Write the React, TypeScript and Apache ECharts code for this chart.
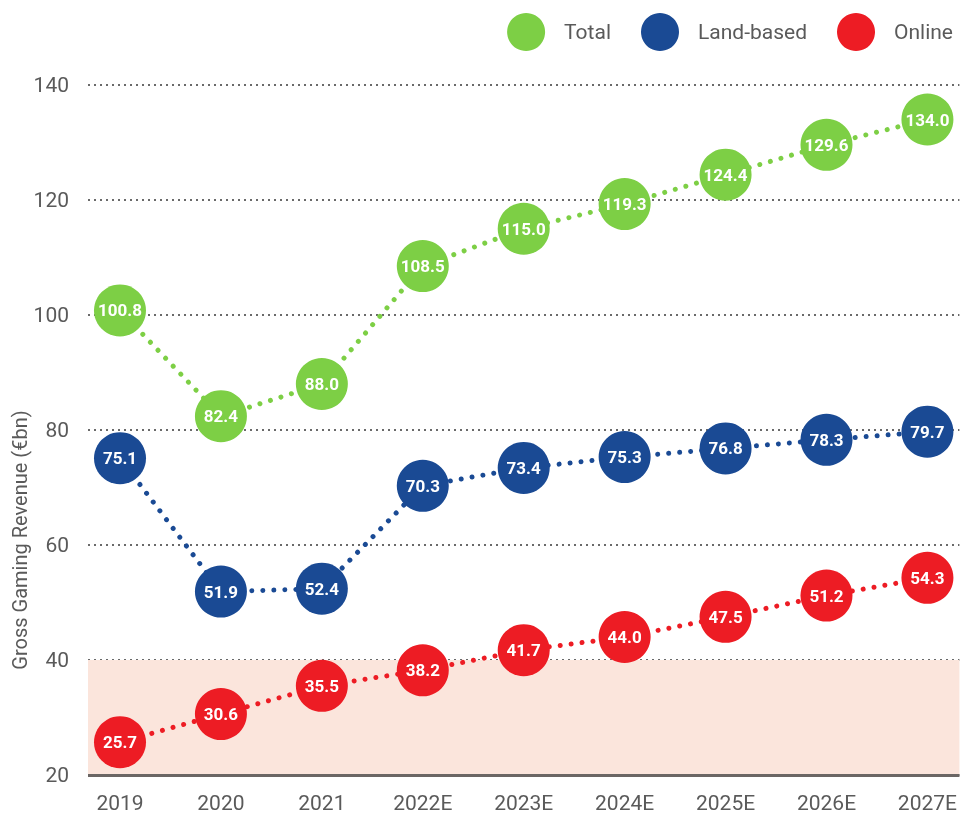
import React, { useEffect, useRef } from "react";
import * as echarts from "echarts";

const categories = ["2019", "2020", "2021", "2022E", "2023E", "2024E", "2025E", "2026E", "2027E"];
const totalValues = [100.8, 82.4, 88.0, 108.5, 115.0, 119.3, 124.4, 129.6, 134.0];
const landValues = [75.1, 51.9, 52.4, 70.3, 73.4, 75.3, 76.8, 78.3, 79.7];
const onlineValues = [25.7, 30.6, 35.5, 38.2, 41.7, 44.0, 47.5, 51.2, 54.3];
const yTicks = [20, 40, 60, 80, 100, 120, 140];

const GREEN = "#7dcf45";
const BLUE = "#1a4a94";
const RED = "#ed1c24";
const GRAY = "#5a5a5a";
const FONT = "Roboto, 'DejaVu Sans', sans-serif";

export default function App() {
  const ref = useRef<HTMLDivElement>(null);
  useEffect(() => {
    if (!ref.current) return;
    const chart = echarts.init(ref.current, undefined, { renderer: "svg" });
    const toPts = (vals: number[]) => vals.map((v, i) => [i, v]);
    const mkSeries = (name: string, vals: number[], color: string, extra: any = {}) => ({
      name,
      type: "line",
      data: toPts(vals),
      symbol: "circle",
      symbolSize: 52,
      z: 3,
      itemStyle: { color, borderWidth: 0 },
      lineStyle: { color, width: 5, type: [0.01, 11], cap: "round" },
      label: {
        show: true,
        position: "inside",
        color: "#ffffff",
        fontWeight: "bold",
        fontSize: 17,
        fontFamily: FONT,
        formatter: (p: any) => Number(p.value[1]).toFixed(1),
      },
      emphasis: { disabled: true },
      ...extra,
    });
    chart.setOption({
      animation: false,
      legend: {
        right: 2,
        top: 8,
        icon: "circle",
        itemWidth: 38,
        itemHeight: 38,
        itemGap: 30,
        textStyle: { color: GRAY, fontSize: 21, fontFamily: FONT, padding: [0, 0, 0, 14] },
        data: ["Total", "Land-based", "Online"],
      },
      grid: { left: 88, right: 0, top: 85, bottom: 39, containLabel: false },
      xAxis: {
        type: "value",
        min: -0.317,
        max: 8.317,
        splitLine: { show: false },
        axisTick: { show: false },
        axisLine: { show: false },
        axisLabel: {
          customValues: categories.map((_, i) => i),
          formatter: (v: number) => categories[Math.round(v)],
          color: GRAY,
          fontSize: 21,
          fontFamily: FONT,
          margin: 17,
        },
      },
      yAxis: {
        type: "value",
        min: 20,
        max: 140,
        interval: 20,
        axisLine: { show: false },
        axisTick: { show: false },
        axisLabel: {
          customValues: yTicks,
          color: GRAY,
          fontSize: 21,
          fontFamily: FONT,
          margin: 19,
        },
        splitLine: {
          show: true,
          lineStyle: { color: "#6a6a6a", width: 2, type: [2, 4] },
        },
      },
      graphic: [
        {
          type: "text",
          x: 20,
          y: 540,
          rotation: Math.PI / 2,
          style: {
            text: "Gross Gaming Revenue (€bn)",
            fill: GRAY,
            fontSize: 20,
            fontFamily: FONT,
            textAlign: "center",
            textVerticalAlign: "middle",
          },
        },
      ],
      series: [
        mkSeries("Online", onlineValues, RED, {
          markArea: {
            silent: true,
            itemStyle: { color: "#fbe5dc" },
            data: [[{ yAxis: 20 }, { yAxis: 40 }]],
          },
          markLine: {
            silent: true,
            symbol: "none",
            label: { show: false },
            lineStyle: { color: "#6b6664", width: 3, type: "solid" },
            data: [{ yAxis: 20 }],
          },
        }),
        mkSeries("Land-based", landValues, BLUE),
        mkSeries("Total", totalValues, GREEN),
      ],
    });
    return () => chart.dispose();
  }, []);
  return <div ref={ref} style={{ position: "fixed", left: 0, top: 0, width: 960, height: 814 }} />;
}
